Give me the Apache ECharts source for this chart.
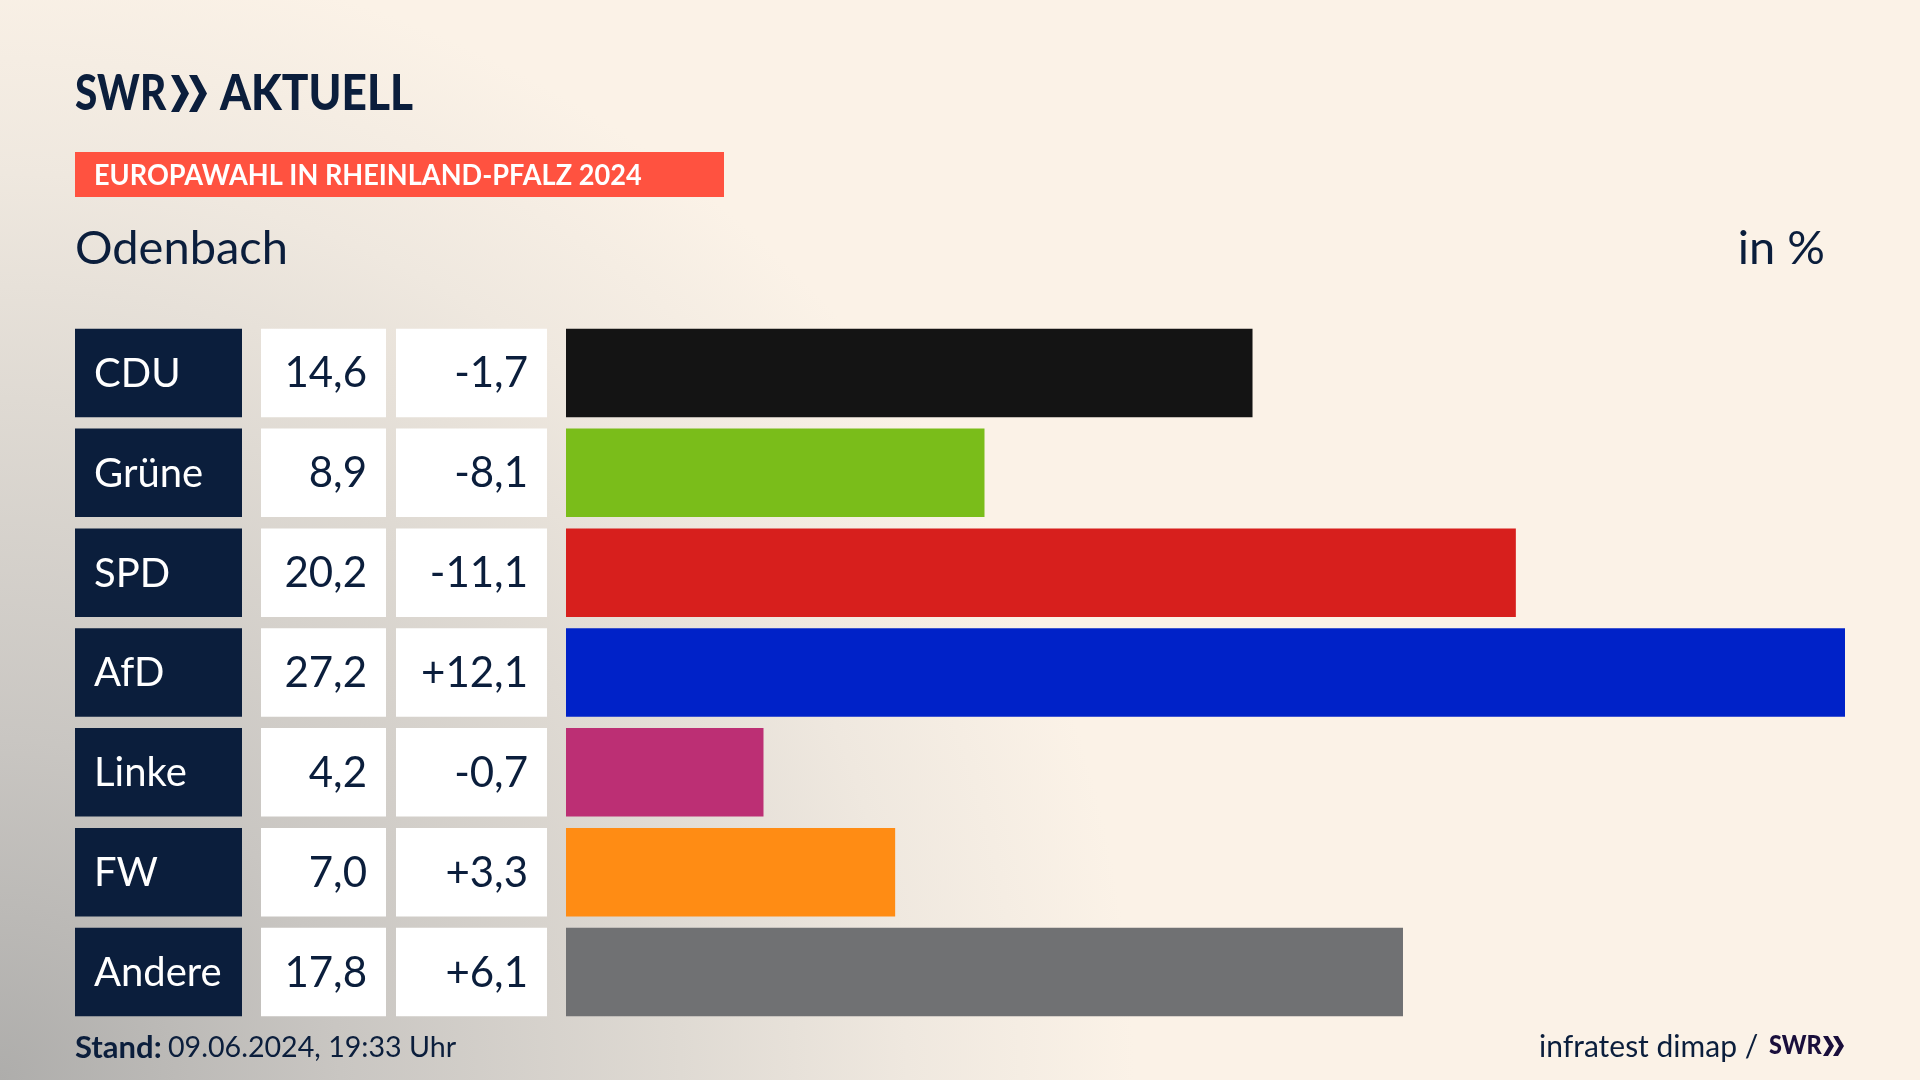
<!DOCTYPE html>
<html lang="de">
<head>
    <meta charset="UTF-8"/>
    <title>Europawahl Odenbach</title>
    <script src="https://cdn.jsdelivr.net/npm/echarts@6/dist/echarts.min.js"></script>
    <style>
        html, body { margin: 0; padding: 0; background: #fbf2e7; }
        #main { width: 1920px; height: 1080px; }
    </style>
</head>
<body>
<div id="main"></div>

<script type="text/javascript">
    var parties = ['CDU', 'Grüne', 'SPD', 'AfD', 'Linke', 'FW', 'Andere'];
    var shares = [14.6, 8.9, 20.2, 27.2, 4.2, 7.0, 17.8];
    var changes = [-1.7, -8.1, -11.1, 12.1, -0.7, 3.3, 6.1];
    var partyColors = ['#141414', '#7abd1a', '#d71f1d', '#0022c8', '#bc2f74', '#ff8c14', '#707173'];

    var navy = '#0b1e3c';
    var font = 'Lato';

    function fmt(v) {
        return v.toFixed(1).replace('.', ',');
    }
    function fmtChange(v) {
        return (v > 0 ? '+' : '') + fmt(v);
    }

    // the three table columns are full width bars on their own little grids
    var columns = [
        {left: 75, width: 167, fill: navy, color: '#fff', pos: 'insideLeft', size: 40, text: function (i) { return parties[i]; }},
        {left: 261, width: 125, fill: '#fff', color: navy, pos: 'insideRight', size: 42, text: function (i) { return fmt(shares[i]); }},
        {left: 396, width: 151, fill: '#fff', color: navy, pos: 'insideRight', size: 42, text: function (i) { return fmtChange(changes[i]); }}
    ];

    var grids = [], xAxes = [], yAxes = [], series = [];

    columns.forEach(function (c, n) {
        grids.push({left: c.left, width: c.width, top: 323, height: 699});
        xAxes.push({gridIndex: n, type: 'value', min: 0, max: 1, show: false});
        yAxes.push({gridIndex: n, type: 'category', inverse: true, data: parties, show: false});
        series.push({
            type: 'bar',
            xAxisIndex: n,
            yAxisIndex: n,
            barWidth: 88.5,
            silent: true,
            itemStyle: {color: c.fill},
            label: {
                show: true,
                position: c.pos,
                distance: 19,
                offset: [0, 1],
                color: c.color,
                fontFamily: font,
                fontSize: c.size,
                formatter: function (p) { return c.text(p.dataIndex); }
            },
            data: parties.map(function () { return 1; })
        });
    });

    grids.push({left: 566, width: 1279, top: 323, height: 699});
    xAxes.push({gridIndex: 3, type: 'value', min: 0, max: 27.2, show: false});
    yAxes.push({gridIndex: 3, type: 'category', inverse: true, data: parties, show: false});
    series.push({
        type: 'bar',
        xAxisIndex: 3,
        yAxisIndex: 3,
        barWidth: 88.5,
        silent: true,
        data: shares.map(function (v, i) {
            return {value: v, itemStyle: {color: partyColors[i]}};
        })
    });

    function txt(x, y, text, size, weight, fill, align, sx) {
        return {
            type: 'text',
            x: x,
            y: y,
            scaleX: sx || 1,
            silent: true,
            style: {
                text: text,
                fontFamily: font,
                fontSize: size,
                fontWeight: weight,
                fill: fill,
                align: align || 'left',
                verticalAlign: 'middle'
            }
        };
    }

    function chevron(x, y, w, h, t, fill) {
        return {
            type: 'polygon',
            silent: true,
            shape: {points: [[x, y], [x + t, y], [x + w, y + h / 2], [x + t, y + h], [x, y + h], [x + w - t, y + h / 2]]},
            style: {fill: fill}
        };
    }

    var option = {
        animation: false,
        backgroundColor: new echarts.graphic.RadialGradient(0, 1, 1.05, [
            {offset: 0, color: '#aeadab'},
            {offset: 0.3, color: '#c9c6c2'},
            {offset: 0.6, color: '#dfdad3'},
            {offset: 0.8, color: '#efe8df'},
            {offset: 1, color: '#fbf2e7'}
        ]),
        grid: grids,
        xAxis: xAxes,
        yAxis: yAxes,
        series: series,
        graphic: [
            txt(75, 94, 'SWR', 50, 900, navy, 'left', 0.81),
            chevron(171, 75, 18, 37, 8, navy),
            chevron(189, 75, 18, 37, 8, navy),
            txt(220, 94, 'AKTUELL', 50, 900, navy, 'left', 0.885),
            {type: 'rect', silent: true, shape: {x: 75, y: 152, width: 649, height: 45}, style: {fill: '#ff5240'}},
            txt(94, 176, 'EUROPAWAHL IN RHEINLAND-PFALZ 2024', 29, 700, '#fff', 'left', 0.935),
            txt(75, 249, 'Odenbach', 47, 400, navy),
            txt(1825, 249, 'in %', 47, 400, navy, 'right'),
            txt(75, 1048, 'Stand:', 31, 700, navy),
            txt(168, 1048, '09.06.2024, 19:33 Uhr', 29, 400, navy, 'left', 0.987),
            txt(1539, 1047, 'infratest dimap /', 30, 400, navy),
            txt(1769, 1046, 'SWR', 26, 900, '#1a0f3c', 'left', 0.9),
            chevron(1823, 1036, 11, 20, 5, '#1a0f3c'),
            chevron(1833, 1036, 11, 20, 5, '#1a0f3c')
        ]
    };

    var myChart = echarts.init(document.getElementById('main'));
    myChart.setOption(option);
</script>
</body>
</html>
